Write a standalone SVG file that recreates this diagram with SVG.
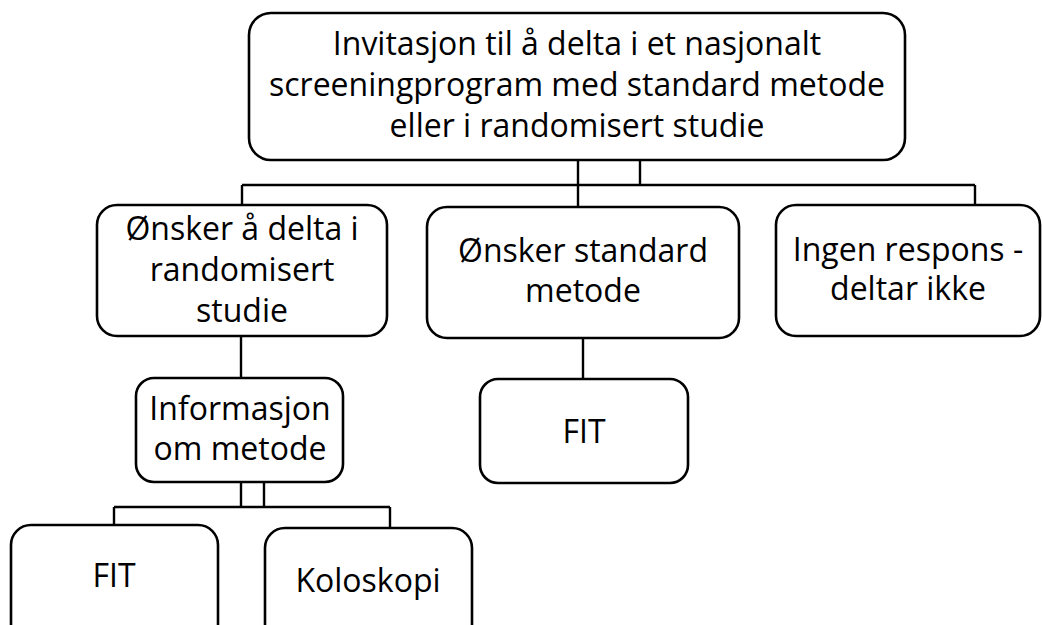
<svg xmlns="http://www.w3.org/2000/svg" width="1042" height="625" viewBox="0 0 1042 625">
<style>
.box{fill:#fff;stroke:#000;stroke-width:2.6}
.t{font-family:"Open Sans","Noto Sans",sans-serif;font-size:32px;fill:#000;text-anchor:middle}
.c{fill:none;stroke:#000;stroke-width:2.4}
</style>
<rect width="1042" height="625" fill="#fff"/>
<g id="connectors">
<path class="c" d="M578,160V207M640,160V185M242,185H975M242,185V205M975,185V205"/>
<path class="c" d="M241,336V378"/>
<path class="c" d="M241,482V507M264,482V507M114,507H390M114,507V525M390,507V528"/>
<path class="c" d="M583,338V379"/>
</g>
<g id="top">
<rect class="box" x="249" y="13" width="656" height="147" rx="22"/>
<text class="t" x="577" y="55">Invitasjon til å delta i et nasjonalt</text>
<text class="t" x="577" y="96">screeningprogram med standard metode</text>
<text class="t" x="577" y="137">eller i randomisert studie</text>
</g>
<g id="randomisert">
<rect class="box" x="97" y="205" width="290" height="131" rx="20"/>
<text class="t" x="242" y="240">Ønsker å delta i</text>
<text class="t" x="242" y="281">randomisert</text>
<text class="t" x="242" y="322">studie</text>
</g>
<g id="standard">
<rect class="box" x="427" y="207" width="312" height="131" rx="20"/>
<text class="t" x="583" y="262">Ønsker standard</text>
<text class="t" x="583" y="302">metode</text>
</g>
<g id="ingen">
<rect class="box" x="776" y="205" width="264" height="131" rx="20"/>
<text class="t" x="908" y="261">Ingen respons -</text>
<text class="t" x="908" y="300">deltar ikke</text>
</g>
<g id="informasjon">
<rect class="box" x="136" y="378" width="207" height="104" rx="18"/>
<text class="t" x="240" y="420">Informasjon</text>
<text class="t" x="240" y="460">om metode</text>
</g>
<g id="fit-standard">
<rect class="box" x="480" y="379" width="208" height="104" rx="18"/>
<text class="t" x="584" y="443">FIT</text>
</g>
<g id="fit-random">
<rect class="box" x="11" y="525" width="207" height="125" rx="20"/>
<text class="t" x="114" y="587">FIT</text>
</g>
<g id="koloskopi">
<rect class="box" x="265" y="528" width="207" height="125" rx="20"/>
<text class="t" x="368" y="592">Koloskopi</text>
</g>
</svg>
